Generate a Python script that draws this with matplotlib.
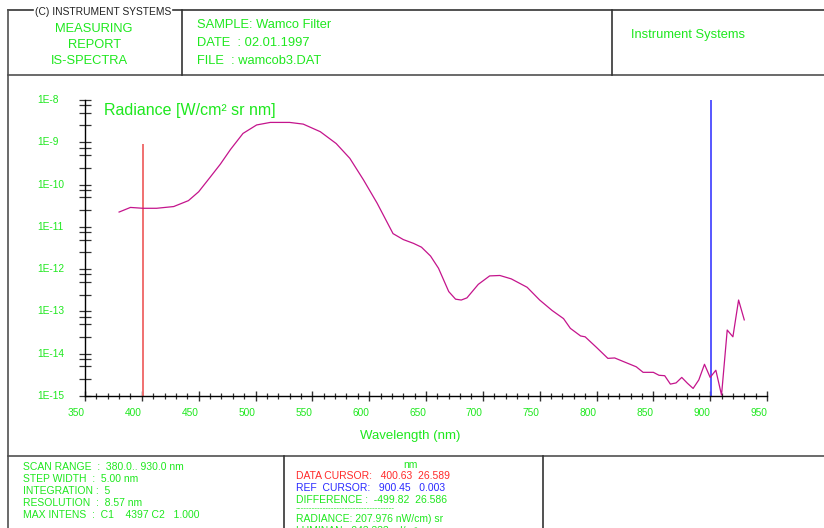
"""
IS-SPECTRA measuring report: spectral radiance of the Wamco filter
with data / reference cursors and the report header and footer boxes.
"""

import numpy as np
import matplotlib
matplotlib.use('Agg')
import matplotlib.pyplot as plt
from matplotlib.lines import Line2D
from matplotlib import transforms

plt.rcParams['font.family'] = ['Liberation Sans', 'DejaVu Sans']

W, H = 824, 528
GREEN = '#1ee81e'
RED = '#ff2a2a'
BLUE = '#2a2aff'
CURVE = '#c4148c'
FRAME = '#505050'

# measured spectrum (nm, W/cm² sr nm)
wavelength = [380, 390, 401, 413, 428, 441, 450, 460, 469, 478,
              489, 501, 513, 530, 542, 557, 571, 583, 595, 607,
              621, 630, 639, 646, 654, 661, 670, 676, 681, 686,
              696, 706, 715, 725, 739, 750, 761, 771, 777, 786,
              790, 800, 810, 816, 825, 835, 841, 850, 855, 860,
              865, 870, 875, 880, 885, 890, 895, 900, 905, 910,
              915, 920, 925, 930]
radiance = [2.24e-11, 2.88e-11, 2.75e-11, 2.75e-11, 3.02e-11, 4.17e-11, 6.76e-11, 1.48e-10, 3.02e-10, 6.76e-10,
            1.62e-9, 2.57e-9, 2.95e-9, 2.95e-9, 2.69e-9, 1.78e-9, 9.33e-10, 4.17e-10, 1.29e-10, 3.63e-11,
            6.92e-12, 5.01e-12, 4.07e-12, 3.31e-12, 2.04e-12, 1.05e-12, 2.95e-13, 1.95e-13, 1.86e-13, 2.09e-13,
            4.37e-13, 6.92e-13, 7.08e-13, 5.89e-13, 3.72e-13, 1.86e-13, 1.05e-13, 6.76e-14, 3.98e-14, 2.63e-14,
            2.51e-14, 1.41e-14, 7.76e-15, 7.94e-15, 6.31e-15, 4.90e-15, 3.63e-15, 3.63e-15, 3.09e-15, 3.02e-15,
            1.91e-15, 2.04e-15, 2.75e-15, 2.00e-15, 1.51e-15, 2.40e-15, 5.62e-15, 2.75e-15, 4.07e-15, 1.05e-15,
            3.63e-14, 2.51e-14, 1.86e-13, 6.31e-14]

data_cursor = 400.63
data_cursor_top = 9.1e-10
ref_cursor = 900.45
ref_cursor_top = 1.05e-8

x_ticks = [350, 400, 450, 500, 550, 600, 650, 700, 750, 800, 850, 900, 950]
y_decades = [-15, -14, -13, -12, -11, -10, -9, -8]
y_minor_factors = [2.5, 5.0, 7.5]

header_left = ['MEASURING', 'REPORT', 'IS-SPECTRA']
header_sample = ['SAMPLE: Wamco Filter', 'DATE  : 02.01.1997', 'FILE  : wamcob3.DAT']
footer_left = ['SCAN RANGE  :  380.0.. 930.0 nm',
               'STEP WIDTH  :  5.00 nm',
               'INTEGRATION :  5',
               'RESOLUTION  :  8.57 nm',
               'MAX INTENS  :  C1    4397 C2   1.000']


def fx(x):
    return x / W


def fy(y):
    return 1 - y / H


def frame_line(fig, xs, ys, color=FRAME, lw=1.2):
    fig.add_artist(Line2D([fx(v) for v in xs], [fy(v) for v in ys],
                          transform=fig.transFigure, color=color, lw=lw))


fig = plt.figure(figsize=(W / 100, H / 100), dpi=100)
fig.patch.set_facecolor('white')

# ---- report frame ----
frame_line(fig, [8, 33], [10, 10], color='#333333')
frame_line(fig, [173, W], [10, 10], color='#333333')
frame_line(fig, [8, 8], [10, H])
frame_line(fig, [8, W], [75, 75])
frame_line(fig, [182, 182], [10, 75], color='#333333')
frame_line(fig, [612, 612], [10, 75], color='#333333')
frame_line(fig, [8, W], [456, 456])
frame_line(fig, [284, 284], [456, H], color='#333333')
frame_line(fig, [543, 543], [456, H], color='#333333')

fig.text(fx(35), fy(12), '(C) INSTRUMENT SYSTEMS', fontsize=7.4,
         color='#222222', ha='left', va='center')
for i, (cx, line) in enumerate(zip([94, 95, 89], header_left)):
    fig.text(fx(cx), fy(29 + i * 15.8), line, fontsize=9.3, color=GREEN,
             ha='center', va='center')
for i, line in enumerate(header_sample):
    fig.text(fx(197), fy(25.5 + i * 17.8), line, fontsize=9.3, color=GREEN,
             ha='left', va='center')
fig.text(fx(631), fy(35), 'Instrument Systems', fontsize=9.3, color=GREEN,
         ha='left', va='center')

# ---- footer ----
for i, line in enumerate(footer_left):
    fig.text(fx(23), fy(467.3 + i * 12), line, fontsize=7.5, color=GREEN,
             ha='left', va='center')
fig.text(fx(410), fy(465), 'nm', fontsize=7.5, color=GREEN, ha='center', va='center')
fig.text(fx(296), fy(476), 'DATA CURSOR:   400.63  26.589', fontsize=7.5,
         color=RED, ha='left', va='center')
fig.text(fx(296), fy(488.3), 'REF  CURSOR:   900.45   0.003', fontsize=7.5,
         color=BLUE, ha='left', va='center')
fig.text(fx(296), fy(500), 'DIFFERENCE :  -499.82  26.586', fontsize=7.5,
         color=GREEN, ha='left', va='center')
fig.text(fx(296), fy(509), '-' * 36, fontsize=6, color=GREEN, ha='left', va='center')
fig.text(fx(296), fy(519), 'RADIANCE: 207.976 nW/cm) sr', fontsize=7.5,
         color=GREEN, ha='left', va='center')
fig.text(fx(296), fy(531), 'LUMINAN.: 243.333 cd/m²', fontsize=7.5,
         color=GREEN, ha='left', va='center')

# ---- spectrum plot ----
x0, x1 = 85, 767
y_top, y_bot = 100, 396
ax = fig.add_axes([fx(x0), fy(y_bot), (x1 - x0) / W, (y_bot - y_top) / H])
ax.set_facecolor('none')
ax.set_xlim(350, 950)
ax.set_yscale('log')
ax.set_ylim(1e-15, 1e-8)

for side in ['top', 'right']:
    ax.spines[side].set_visible(False)
for side in ['left', 'bottom']:
    ax.spines[side].set_color('black')
    ax.spines[side].set_linewidth(1.0)

ax.set_xticks(x_ticks)
ax.set_xticks(np.arange(360, 950, 10), minor=True)
ax.set_yticks([10.0 ** d for d in y_decades])
ax.set_yticks([f * 10.0 ** d for d in y_decades[:-1] for f in y_minor_factors], minor=True)
ax.tick_params(axis='x', which='major', direction='inout', length=7, width=1.0,
               color='#333333', labelbottom=False)
ax.tick_params(axis='x', which='minor', direction='inout', length=4.5, width=0.9,
               color='#333333')
ax.tick_params(axis='y', which='both', direction='inout', length=9, width=0.9,
               color='#333333', labelleft=False)

x_label_tf = transforms.blended_transform_factory(ax.transData, fig.transFigure)
for t in x_ticks:
    ax.text(t, fy(413), str(t), transform=x_label_tf, fontsize=7.3, color=GREEN,
            ha='right', va='center')
y_label_tf = transforms.blended_transform_factory(fig.transFigure, ax.transData)
for d in y_decades:
    ax.text(fx(37), 10.0 ** d, f'1E{d}', transform=y_label_tf, fontsize=7.3,
            color=GREEN, ha='left', va='center')

ax.plot(wavelength, radiance, color=CURVE, lw=0.9, clip_on=False, zorder=3)
ax.vlines(data_cursor, 1e-15, data_cursor_top, color='#f07070', lw=1.4, zorder=2)
ax.vlines(ref_cursor, 1e-15, ref_cursor_top, color='#4a4aff', lw=1.3, zorder=2)

fig.text(fx(104), fy(110), 'Radiance [W/cm² sr nm]', fontsize=11.5, color=GREEN,
         ha='left', va='center')
fig.text(fx(410), fy(435.5), 'Wavelength (nm)', fontsize=9.5, color=GREEN,
         ha='center', va='center')

fig.savefig('out.png', dpi=100, facecolor='white')
